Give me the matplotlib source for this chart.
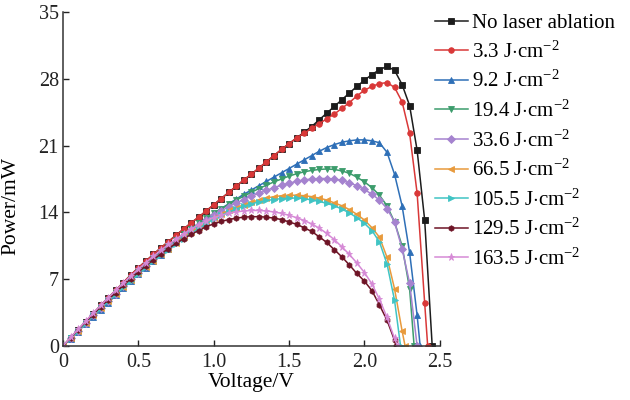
import matplotlib
matplotlib.use("Agg")
import matplotlib.pyplot as plt

# P-V curves for laser ablated cells
voltage = [0.00, 0.05, 0.10, 0.15, 0.20, 0.25, 0.30, 0.35, 0.40, 0.45,
           0.50, 0.55, 0.60, 0.65, 0.70, 0.75, 0.80, 0.85, 0.90, 0.95,
           1.00, 1.05, 1.10, 1.15, 1.20, 1.25, 1.30, 1.35, 1.40, 1.45,
           1.50, 1.55, 1.60, 1.65, 1.70, 1.75, 1.80, 1.85, 1.90, 1.95,
           2.00, 2.05, 2.10, 2.15, 2.20, 2.25, 2.30, 2.35, 2.40]

labels = ['No laser ablation',
          r'3.3 J$\cdot$cm$^{-2}$',
          r'9.2 J$\cdot$cm$^{-2}$',
          r'19.4 J$\cdot$cm$^{-2}$',
          r'33.6 J$\cdot$cm$^{-2}$',
          r'66.5 J$\cdot$cm$^{-2}$',
          r'105.5 J$\cdot$cm$^{-2}$',
          r'129.5 J$\cdot$cm$^{-2}$',
          r'163.5 J$\cdot$cm$^{-2}$']

p_none = [0, 0.85, 1.7, 2.55, 3.4, 4.25, 5.05, 5.85, 6.65, 7.45,
          8.2, 8.9, 9.6, 10.3, 10.95, 11.6, 12.25, 12.9, 13.5, 14.15,
          14.8, 15.45, 16.1, 16.75, 17.4, 18.0, 18.65, 19.3, 19.95, 20.6,
          21.2, 21.8, 22.4, 23.0, 23.7, 24.4, 25.1, 25.8, 26.5, 27.2,
          27.85, 28.45, 28.95, 29.3, 28.9, 27.4, 25.2, 20.5, 13.2]
p_3_3 = [0, 0.85, 1.7, 2.55, 3.4, 4.25, 5.05, 5.85, 6.65, 7.45,
         8.2, 8.9, 9.6, 10.3, 10.95, 11.6, 12.25, 12.9, 13.5, 14.15,
         14.8, 15.45, 16.1, 16.75, 17.4, 18.0, 18.65, 19.3, 19.95, 20.6,
         21.2, 21.8, 22.3, 22.8, 23.3, 23.8, 24.3, 24.9, 25.5, 26.2,
         26.8, 27.2, 27.5, 27.6, 27.1, 25.6, 22.3, 16.0, 4.5]
p_9_2 = [0, 0.75, 1.5, 2.3, 3.05, 3.8, 4.55, 5.3, 6.05, 6.8,
         7.5, 8.2, 8.9, 9.55, 10.2, 10.85, 11.5, 12.1, 12.7, 13.3,
         13.85, 14.4, 14.9, 15.4, 15.9, 16.35, 16.8, 17.25, 17.7, 18.15,
         18.6, 19.05, 19.5, 19.95, 20.4, 20.8, 21.1, 21.35, 21.5, 21.6,
         21.6, 21.5, 21.3, 20.3, 18.0, 14.7, 9.8, 3.2]
p_19_4 = [0, 0.8, 1.6, 2.4, 3.2, 4.0, 4.8, 5.55, 6.3, 7.05,
          7.8, 8.5, 9.2, 9.85, 10.5, 11.1, 11.7, 12.3, 12.85, 13.4,
          13.9, 14.4, 14.85, 15.3, 15.7, 16.1, 16.5, 16.85, 17.2, 17.5,
          17.8, 18.05, 18.25, 18.4, 18.5, 18.55, 18.5, 18.35, 18.1, 17.7,
          17.2, 16.6, 15.8, 14.7, 13.0, 10.5, 6.0]
p_33_6 = [0, 0.8, 1.6, 2.4, 3.2, 4.0, 4.75, 5.5, 6.25, 7.0,
          7.7, 8.4, 9.1, 9.75, 10.4, 11.0, 11.6, 12.2, 12.7, 13.2,
          13.7, 14.15, 14.6, 15.0, 15.35, 15.7, 16.0, 16.3, 16.6, 16.85,
          17.05, 17.25, 17.4, 17.5, 17.55, 17.55, 17.5, 17.35, 17.1, 16.8,
          16.4, 15.9, 15.3, 14.4, 13.0, 10.2, 6.6]
p_66_5 = [0, 0.8, 1.6, 2.4, 3.2, 3.95, 4.7, 5.45, 6.2, 6.9,
          7.6, 8.3, 8.95, 9.6, 10.2, 10.8, 11.4, 11.95, 12.45, 12.95,
          13.4, 13.8, 14.2, 14.5, 14.8, 15.05, 15.3, 15.5, 15.65, 15.75,
          15.8, 15.8, 15.75, 15.65, 15.5, 15.3, 15.0, 14.7, 14.3, 13.8,
          13.2, 12.4, 11.4, 9.3, 6.0, 1.6]
p_105_5 = [0, 0.8, 1.6, 2.4, 3.2, 3.95, 4.7, 5.45, 6.15, 6.85,
           7.55, 8.25, 8.9, 9.5, 10.1, 10.7, 11.25, 11.8, 12.3, 12.8,
           13.3, 13.7, 14.05, 14.35, 14.65, 14.9, 15.1, 15.25, 15.35, 15.45,
           15.5, 15.5, 15.45, 15.3, 15.15, 14.95, 14.7, 14.35, 13.95, 13.45,
           12.85, 12.1, 10.9, 8.6, 4.8]
p_129_5 = [0, 0.85, 1.7, 2.5, 3.3, 4.1, 4.85, 5.6, 6.35, 7.05,
           7.75, 8.4, 9.05, 9.65, 10.2, 10.75, 11.25, 11.7, 12.1, 12.5,
           12.8, 13.05, 13.25, 13.4, 13.5, 13.55, 13.55, 13.5, 13.4, 13.25,
           13.0, 12.75, 12.4, 12.0, 11.45, 10.85, 10.1, 9.35, 8.5, 7.6,
           6.8, 5.8, 4.3, 2.7, 0.6]
p_163_5 = [0, 0.9, 1.75, 2.6, 3.45, 4.25, 5.05, 5.85, 6.6, 7.35,
           8.05, 8.75, 9.4, 10.05, 10.65, 11.2, 11.75, 12.25, 12.7, 13.1,
           13.45, 13.7, 13.9, 14.05, 14.15, 14.2, 14.2, 14.15, 14.05, 13.9,
           13.7, 13.45, 13.15, 12.8, 12.35, 11.8, 11.15, 10.4, 9.6, 8.7,
           7.7, 6.5, 4.9, 3.0, 0.8]

# open-circuit voltage where each curve reaches zero
voc = [2.45, 2.42, 2.37, 2.33, 2.35, 2.27, 2.24, 2.21, 2.22]

series = [p_none, p_3_3, p_9_2, p_19_4, p_33_6, p_66_5, p_105_5, p_129_5, p_163_5]
colors = ['#1c1c1c', '#d93838', '#2e6fb7', '#3c9c6c', '#a583cf',
          '#e89a3c', '#40c4c4', '#6e1426', '#d68ad6']
markers = ['s', 'o', '^', 'v', 'D', '<', '>', 'h', '*']

plt.rcParams['font.family'] = ['Liberation Serif', 'DejaVu Serif']
plt.rcParams['mathtext.fontset'] = 'custom'
plt.rcParams['mathtext.rm'] = 'Liberation Serif'
plt.rcParams['mathtext.it'] = 'Liberation Serif:italic'

fig = plt.figure(figsize=(6.3, 4.0), dpi=100)
ax = fig.add_axes([0.1, 0.135, 0.598, 0.835])

for p, v0, c, m, lab in zip(series, voc, colors, markers, labels):
    v = voltage[:len(p)] + [v0]
    pw = p + [0]
    ms = 5.2 if m == '*' else 4
    ax.plot(v, pw, color=c, marker=m, markersize=ms, linewidth=1.1,
            markeredgewidth=0.6, label=lab)

ax.set_xlim(0, 2.5)
ax.set_ylim(0, 35)
ax.set_xticks([0, 0.5, 1.0, 1.5, 2.0, 2.5])
ax.set_xticklabels(['0', '0.5', '1.0', '1.5', '2.0', '2.5'])
ax.set_yticks([0, 7, 14, 21, 28, 35])
ax.tick_params(direction='in', length=4, width=1, labelsize=14.5,
               colors='#222222', pad=3)
ax.tick_params(axis='x', pad=5)
ax.spines['top'].set_visible(False)
ax.spines['right'].set_visible(False)
for s in ['left', 'bottom']:
    ax.spines[s].set_linewidth(1.1)
    ax.spines[s].set_color('#333333')

ax.set_xlabel('Voltage/V', fontsize=15.5, labelpad=1)
ax.set_ylabel('Power/mW', fontsize=15.5)
ax.yaxis.set_label_coords(-0.112, 0.42)

fig.legend(loc='upper left', bbox_to_anchor=(0.69, 0.966), frameon=False,
           fontsize=15, handlelength=1.6, handletextpad=0.2,
           labelspacing=0.40, borderaxespad=0, borderpad=0)

fig.savefig('out.png', dpi=100)
